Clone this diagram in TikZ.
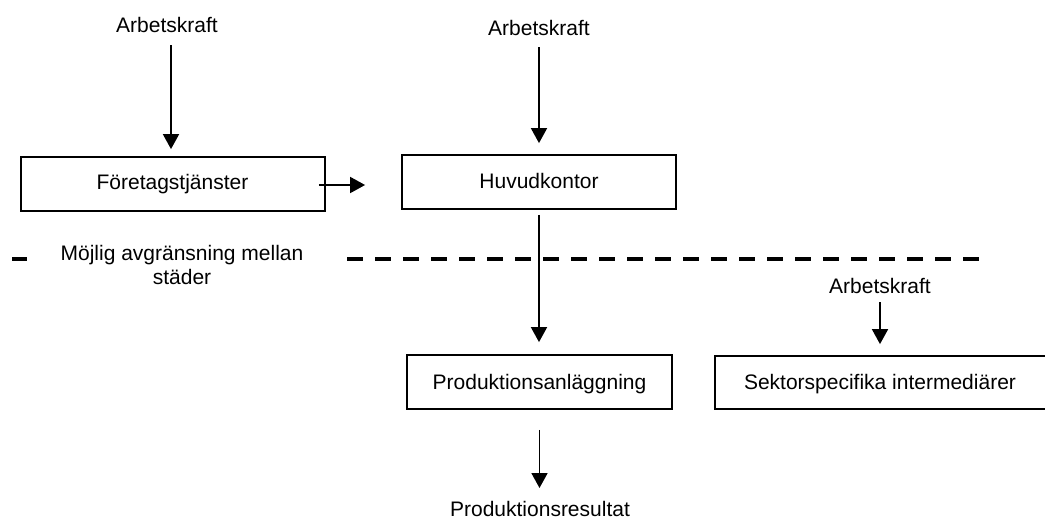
\documentclass[tikz,border=0pt]{standalone}
\usepackage{fontspec}
\setmainfont{Liberation Sans}
\usetikzlibrary{arrows.meta,calc}
\begin{document}
\begin{tikzpicture}[x=1pt,y=-1pt,
  every node/.style={font=\fontsize{21}{24}\selectfont, inner sep=0pt},
  boxnode/.style={draw, line width=1.8pt, rectangle, align=center},
  lbl/.style={anchor=base},
  arr/.style={line width=1.8pt, -{Triangle[width=16pt 0 0,length=15pt 0 0]}},
  sep/.style={line width=4pt, dash pattern=on 16pt off 12pt}]
\clip (0,0) rectangle (1045,520);
\useasboundingbox (0,0) rectangle (1045,520);
% boxes
\node[boxnode, minimum width=304pt, minimum height=54pt] (b1) at (173,184) {};
\node[lbl] at (172.5,189) {Företagstjänster};
\node[boxnode, minimum width=274pt, minimum height=54pt] (b2) at (539,182) {};
\node[lbl] at (539,188) {Huvudkontor};
\node[boxnode, minimum width=265pt, minimum height=54pt] (b3) at (539.5,382) {};
\node[lbl] at (539.5,389) {Produktionsanläggning};
\node[boxnode, minimum width=333pt, minimum height=53pt] (b4) at (881.5,382.5) {};
\node[lbl] at (880,389) {Sektorspecifika intermediärer};
% labels
\node[lbl] (l1) at (167,32) {Arbetskraft};
\node[lbl] (l2) at (539,35) {Arbetskraft};
\node[lbl] (l3) at (880,293) {Arbetskraft};
\node[lbl] (l4) at (540,516) {Produktionsresultat};
\node[align=center, anchor=base] (sepl) at (182,284) {Möjlig avgränsning mellan\\städer};
% separator
\draw[line width=4pt] (12,258.5) -- (27,258.5);
\draw[sep] (347,258.5) -- (980,258.5);
% arrows
\draw[arr, shorten <=13pt, shorten >=7pt] ([xshift=4pt]l1.base) -- ([xshift=4pt]l1.base |- b1.north);
\draw[arr, shorten <=12pt, shorten >=11pt] (l2.base) -- (l2.base |- b2.north);
\draw[arr] ([xshift=-7pt,yshift=-1pt]b1.east) -- ([xshift=-36pt,yshift=-1pt]b2.west |- b1.east);
\draw[arr, shorten <=5pt, shorten >=12pt] (b2.south) -- (b2.south |- b3.north);
\draw[arr, shorten <=9pt, shorten >=11pt] (l3.base) -- (l3.base |- b4.north);
\draw[arr, shorten <=20pt, shorten >=0pt] (b3.south) -- ($(b3.south |- l4.base)+(0,-28)$);
\end{tikzpicture}
\end{document}
